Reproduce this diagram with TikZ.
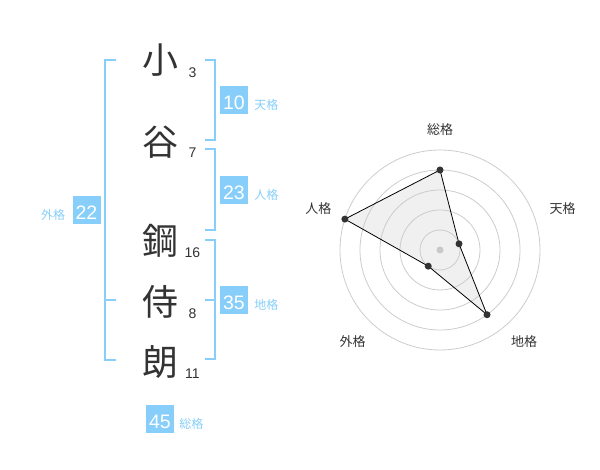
\documentclass[tikz,border=0pt]{standalone}
\usepackage{fontspec}
\setmainfont{Liberation Sans}
\newfontfamily\cjk{Noto Sans CJK JP}
\usetikzlibrary{positioning}
\definecolor{skyline}{HTML}{87CEFA}
\definecolor{ink}{HTML}{333333}
\definecolor{ringgray}{HTML}{CCCCCC}
\definecolor{areagray}{HTML}{F0F0F0}
\definecolor{hubgray}{HTML}{C8C8C8}

\begin{document}
\begin{tikzpicture}[x=1pt, y=-1pt,
        kanji/.style={font=\cjk\fontsize{36}{36}\selectfont, text=ink, inner sep=0pt},
        strokes/.style={font=\fontsize{14}{14}\selectfont, text=ink, inner sep=0pt},
        kakubox/.style={fill=skyline, text=white, minimum size=28pt, inner sep=0pt, text height=18.6pt, text depth=0pt, font=\fontsize{19.5}{19.5}\selectfont},
        kakulabel/.style={font=\cjk\fontsize{12}{12}\selectfont, text=skyline, inner sep=0pt},
        bracket/.style={draw=skyline, line width=2pt},
        axislabel/.style={font=\cjk\fontsize{13}{13}\selectfont, text=ink, inner sep=0pt},
        vertex/.style={circle, fill=ink, inner sep=0pt, minimum size=7pt}]
        \useasboundingbox (0,0) rectangle (600,470);

        % name
        \node[kanji] (c_1) at (160,60)    {小};
        \node[kanji] (c_2) at (160,141.7) {谷};
        \node[kanji] (c_3) at (160,240.7) {鋼};
        \node[kanji] (c_4) at (160,301.7) {侍};
        \node[kanji] (c_5) at (160,361.7) {朗};

        \node[strokes] (n_1) at (192.5,72.7)  {3};
        \node[strokes] (n_2) at (192.5,152.7) {7};
        \node[strokes] (n_3) at (192.5,252.7) {16};
        \node[strokes] (n_4) at (192.5,313.3) {8};
        \node[strokes] (n_5) at (192.5,373.3) {11};

        % brackets
        \draw[bracket] (116,60) -| (105,360) -- (116,360);
        \draw[bracket] (105,300) -- (116,300);
        \draw[bracket] (205,60) -| (214.5,140) -- (205,140);
        \draw[bracket] (205,149.3) -| (214.5,230) -- (205,230);
        \draw[bracket] (205,240) -| (214.5,359.3) -- (205,359.3);
        \draw[bracket] (205,300) -- (214.5,300);

        % boxes
        \node[kakubox] (ten) at (234,100)  {10};
        \node[kakubox] (jin) at (234,190)  {23};
        \node[kakubox] (chi) at (234,300)  {35};
        \node[kakubox] (gai) at (86.5,210) {22};
        \node[kakubox] (sou) at (160,419)  {45};

        \node[kakulabel, right=6pt of ten.base east, anchor=base west] (ten_l) {天格};
        \node[kakulabel, right=6pt of jin.base east, anchor=base west] (jin_l) {人格};
        \node[kakulabel, right=6pt of chi.base east, anchor=base west] (chi_l) {地格};
        \node[kakulabel, left=7pt of gai.base west, anchor=base east]  (gai_l) {外格};
        \node[kakulabel, right=5pt of sou.base east, anchor=base west] (sou_l) {総格};

        % radar
        \begin{scope}[shift={(440,250)}, y=1pt]
            \coordinate (v_sou) at (90:80pt);
            \coordinate (v_ten) at (18:20pt);
            \coordinate (v_chi) at (-54:80pt);
            \coordinate (v_gai) at (-126:20pt);
            \coordinate (v_jin) at (162:100pt);

            \fill[areagray] (v_sou) -- (v_ten) -- (v_chi) -- (v_gai) -- (v_jin) -- cycle;
            \foreach \r in {20,40,...,100}
                \draw[ringgray, line width=0.8pt] (0,0) circle[radius=\r pt];
            \draw[black, line width=0.8pt] (v_sou) -- (v_ten) -- (v_chi) -- (v_gai) -- (v_jin) -- cycle;

            \node[circle, fill=hubgray, inner sep=0pt, minimum size=7pt] (hub) at (0,0) {};
            \foreach \v in {sou,ten,chi,gai,jin}
                \node[vertex] (p_\v) at (v_\v) {};

            \node[axislabel] (a_sou) at (0,120)        {総格};
            \node[axislabel] (a_ten) at (122.7,41)     {天格};
            \node[axislabel] (a_chi) at (84,-91.7)     {地格};
            \node[axislabel] (a_gai) at (-87.3,-91.7)  {外格};
            \node[axislabel] (a_jin) at (-121.7,41)    {人格};
        \end{scope}
    \end{tikzpicture}
\end{document}
